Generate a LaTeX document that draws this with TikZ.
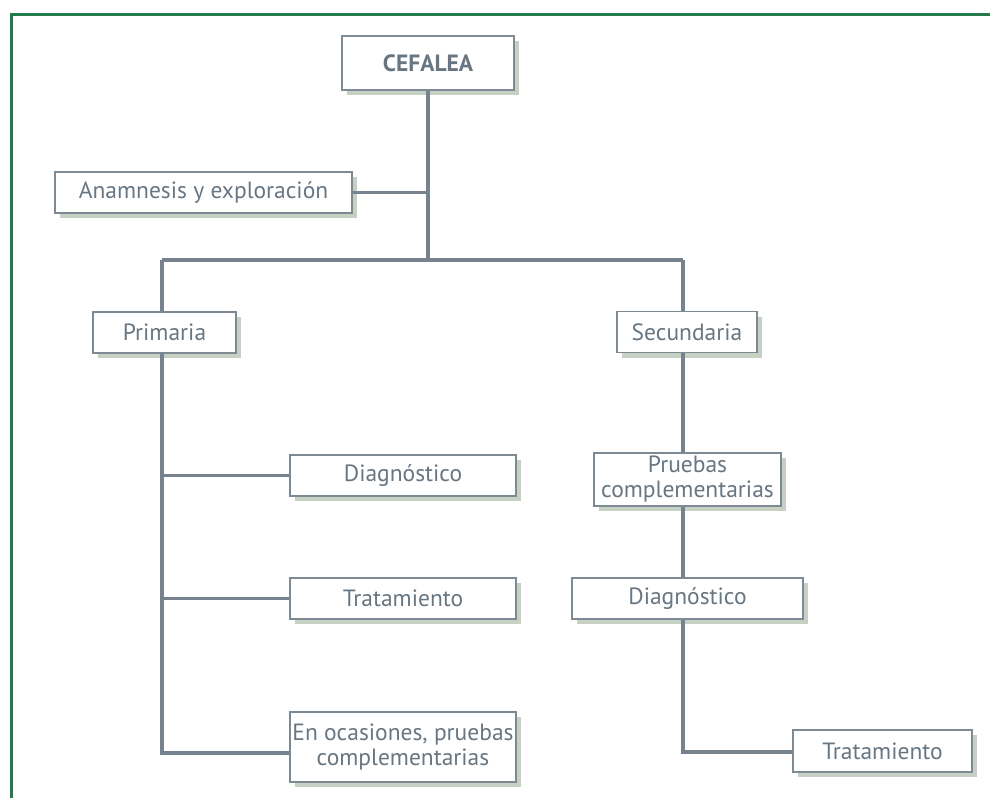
\documentclass[tikz,border=0pt]{standalone}
\usepackage{fontspec}
\setmainfont{PT Sans}
\usetikzlibrary{shadows}
\definecolor{framegreen}{HTML}{237A4A}
\definecolor{linkgrey}{HTML}{76838E}
\definecolor{boxedge}{HTML}{7D8A94}
\definecolor{shadowgreen}{HTML}{C7D1C3}
\definecolor{labelgrey}{HTML}{677682}
\begin{document}
\begin{tikzpicture}[x=1pt,y=-1pt,
  card/.style={draw=boxedge, line width=1.5pt, fill=white, inner sep=0pt,
    align=center, text=labelgrey, font=\fontsize{23.5}{25}\selectfont,
    drop shadow={shadow xshift=5pt, shadow yshift=-5pt, fill=shadowgreen, opacity=1}},
  link/.style={draw=linkgrey, line width=3.2pt, line join=miter}]
  \useasboundingbox (0,0) rectangle (990,798);
  % outer frame (top and left edges only)
  \draw[framegreen, line width=3pt] (11,798) -- (11,14) -- (990,14);

  % boxes
  \node[card, minimum width=172pt, minimum height=54pt, font=\fontsize{23.5}{25}\selectfont\bfseries] (cef) at (428,63) {CEFALEA};
  \node[card, minimum width=297pt, minimum height=41pt] (anam) at (203.5,192.5) {Anamnesis y exploración};
  \node[card, minimum width=143pt, minimum height=41pt] (prim) at (164.5,332.5) {Primaria};
  \node[card, minimum width=140pt, minimum height=41pt] (sec) at (687,332) {Secundaria};
  \node[card, minimum width=226pt, minimum height=41pt] (diagL) at (403,475.5) {Diagnóstico};
  \node[card, minimum width=226pt, minimum height=41pt] (tratL) at (403,598.5) {Tratamiento};
  \node[card, minimum width=226pt, minimum height=70pt] (ocas) at (403,747) {En ocasiones, pruebas\\complementarias};
  \node[card, minimum width=187pt, minimum height=53pt] (prue) at (687.5,479.5) {Pruebas\\complementarias};
  \node[card, minimum width=231pt, minimum height=41pt] (diagR) at (687.5,598.5) {Diagnóstico};
  \node[card, minimum width=179pt, minimum height=42pt] (tratR) at (882.5,751) {Tratamiento};

  % junction points
  \coordinate (split) at (428,260);
  \coordinate (barL) at (162,260);
  \coordinate (barR) at (683,260);
  \coordinate (footL) at (162,753);
  \coordinate (footR) at (683,752);

  % connectors
  \draw[link] (cef.south) -- (split);
  \draw[link] (anam.east) -- (anam.east -| split);
  \draw[link] (barL) -- (barR);
  \draw[link] (barL) -- (barL |- prim.north);
  \draw[link] (barR) -- (barR |- sec.north);
  \draw[link] (footL |- prim.south) -- (footL) -- (ocas.west |- footL);
  \draw[link] (diagL.west -| footL) -- (diagL.west);
  \draw[link] (tratL.west -| footL) -- (tratL.west);
  \draw[link] (barR |- sec.south) -- (barR |- prue.north);
  \draw[link] (barR |- prue.south) -- (barR |- diagR.north);
  \draw[link] (footR |- diagR.south) -- (footR) -- (tratR.west |- footR);
\end{tikzpicture}
\end{document}
